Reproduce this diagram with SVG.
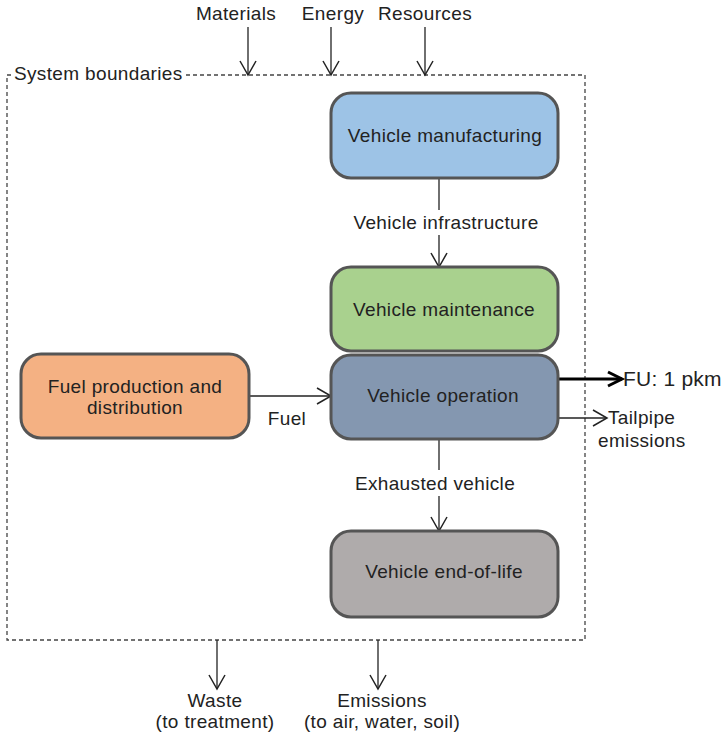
<svg xmlns="http://www.w3.org/2000/svg" width="727" height="733" viewBox="0 0 727 733">
<style>
text{font-family:"Liberation Sans",Arial,sans-serif;font-size:19px;letter-spacing:0.35px;fill:#222}
.c{text-anchor:middle}
.box{stroke:#555;stroke-width:3}
.ln{stroke:#222;stroke-width:1.3;fill:none}
.bd{stroke:#444;stroke-width:1.3;fill:none;stroke-dasharray:4 3}
</style>
<defs>
<marker id="ah" markerUnits="userSpaceOnUse" markerWidth="18" markerHeight="20" refX="15" refY="9" orient="auto" overflow="visible">
<path d="M1,1 L15,9 L1,17" fill="none" stroke="#222" stroke-width="1.5"/>
</marker>
<marker id="ahb" markerUnits="userSpaceOnUse" markerWidth="20" markerHeight="20" refX="16" refY="9" orient="auto" overflow="visible">
<path d="M2,2 L16,9 L2,16" fill="none" stroke="#000" stroke-width="3"/>
</marker>
</defs>
<g id="boundary">
<path class="bd" d="M186,75 H585 V640 H7 V75 H11"/>
<text x="14" y="80">System boundaries</text>
</g>
<g id="connectors">
<line class="ln" x1="248" y1="27" x2="248" y2="75" marker-end="url(#ah)"/>
<line class="ln" x1="331" y1="27" x2="331" y2="75" marker-end="url(#ah)"/>
<line class="ln" x1="425" y1="27" x2="425" y2="75" marker-end="url(#ah)"/>
<line class="ln" x1="439" y1="178" x2="439" y2="210"/>
<line class="ln" x1="439" y1="235" x2="439" y2="267" marker-end="url(#ah)"/>
<line class="ln" x1="249" y1="396" x2="331" y2="396" marker-end="url(#ah)"/>
<line x1="559" y1="379" x2="622" y2="379" stroke="#000" stroke-width="3" marker-end="url(#ahb)"/>
<line class="ln" x1="559" y1="418" x2="607" y2="418" marker-end="url(#ah)"/>
<line class="ln" x1="439" y1="439" x2="439" y2="470"/>
<line class="ln" x1="439" y1="496" x2="439" y2="531" marker-end="url(#ah)"/>
<line class="ln" x1="217" y1="640" x2="217" y2="689" marker-end="url(#ah)"/>
<line class="ln" x1="378" y1="640" x2="378" y2="689" marker-end="url(#ah)"/>
<text class="c" x="236" y="20">Materials</text>
<text class="c" x="333" y="20">Energy</text>
<text class="c" x="425" y="20">Resources</text>
<text class="c" x="446" y="229">Vehicle infrastructure</text>
<text class="c" x="287" y="425">Fuel</text>
<text x="623" y="386" style="font-size:21px;letter-spacing:0.2px">FU: 1 pkm</text>
<text x="608" y="424">Tailpipe</text>
<text x="598" y="447">emissions</text>
<text class="c" x="435" y="490">Exhausted vehicle</text>
<text class="c" x="215" y="707">Waste</text>
<text class="c" x="215" y="728">(to treatment)</text>
<text class="c" x="382" y="707">Emissions</text>
<text class="c" x="382" y="728">(to air, water, soil)</text>
</g>
<g id="manufacturing">
<rect class="box" x="331" y="93" width="227" height="85" rx="20" fill="#9dc3e6"/>
<text class="c" x="445" y="142">Vehicle manufacturing</text>
</g>
<g id="maintenance">
<rect class="box" x="331" y="267" width="227" height="84" rx="20" fill="#a9d18e"/>
<text class="c" x="444" y="316">Vehicle maintenance</text>
</g>
<g id="operation">
<rect class="box" x="331" y="355" width="227" height="84" rx="20" fill="#8497b0"/>
<text class="c" x="443" y="402">Vehicle operation</text>
</g>
<g id="fuel">
<rect class="box" x="21" y="354" width="228" height="84" rx="20" fill="#f4b183"/>
<text class="c" x="135" y="393">Fuel production and</text>
<text class="c" x="135" y="414">distribution</text>
</g>
<g id="endoflife">
<rect class="box" x="331" y="531" width="227" height="86" rx="20" fill="#afabab"/>
<text class="c" x="444" y="578">Vehicle end-of-life</text>
</g>
</svg>
